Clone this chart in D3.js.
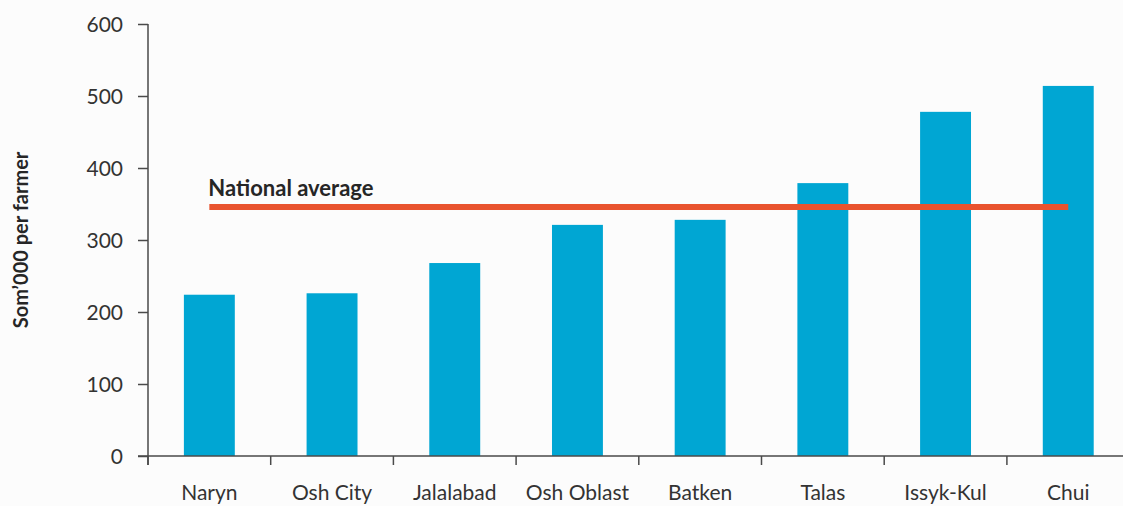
<!DOCTYPE html>
<html>
<head>
<meta charset="utf-8">
<script src="https://cdn.jsdelivr.net/npm/d3@7/dist/d3.min.js"></script>
<style>
  html, body { margin: 0; padding: 0; background: #fcfcfc; }
  svg { display: block; font-family: Lato, "Open Sans", sans-serif; }
</style>
</head>
<body>
<svg id="chart" width="1123" height="506"></svg>
<script>
// Average farm income by oblast/city (thousand som per farmer)
const regions = ["Naryn", "Osh City", "Jalalabad", "Osh Oblast", "Batken", "Talas", "Issyk-Kul", "Chui"];
const incomePerFarmer = [224, 226, 268, 321, 328, 379, 478, 514];
const nationalAverage = 346;
const yTicks = [0, 100, 200, 300, 400, 500, 600];
const yTitle = "Som\u2019000 per farmer";
const averageLabel = "National average";

const svg = d3.select("#chart");
const margin = { left: 148, top: 24 };
const plotBottom = 456;

const x = d3.scaleBand()
  .domain(regions)
  .range([margin.left, margin.left + 8 * 122.7])
  .paddingInner(0.585)
  .paddingOuter(0.2925);

const y = d3.scaleLinear().domain([0, 600]).range([plotBottom, margin.top]);

const axisColor = "#4a4a4a";
const textColor = "#333333";

// Bars
svg.append("g").selectAll("rect")
  .data(regions.map((r, i) => ({ r, v: incomePerFarmer[i] })))
  .join("rect")
  .attr("x", d => x(d.r))
  .attr("y", d => y(d.v))
  .attr("width", x.bandwidth())
  .attr("height", d => y(0) - y(d.v))
  .attr("fill", "#00a6d3");

// Y axis
const yAxis = svg.append("g")
  .attr("transform", `translate(${margin.left},0)`)
  .call(d3.axisLeft(y).tickValues(yTicks).tickSize(10).tickPadding(15).tickSizeOuter(0));
yAxis.select(".domain").attr("stroke", axisColor).attr("stroke-width", 1.5)
  .attr("d", `M0,${y(600)}V${plotBottom + 9}`);
yAxis.selectAll(".tick line").attr("stroke", axisColor).attr("stroke-width", 1.5);
yAxis.selectAll(".tick text")
  .attr("fill", textColor)
  .style("font-size", "21px")
  .style("font-family", "Lato, sans-serif")
  .attr("dy", "0.36em");

// X axis: baseline plus ticks at category boundaries
const xg = svg.append("g");
xg.append("line")
  .attr("x1", margin.left - 10).attr("x2", 1123)
  .attr("y1", plotBottom).attr("y2", plotBottom)
  .attr("stroke", axisColor).attr("stroke-width", 1.5);
xg.selectAll("line.bound")
  .data(regions)
  .join("line")
  .attr("class", "bound")
  .attr("x1", d => x(d) - x.step() * x.paddingOuter())
  .attr("x2", d => x(d) - x.step() * x.paddingOuter())
  .attr("y1", plotBottom).attr("y2", plotBottom + 9)
  .attr("stroke", axisColor).attr("stroke-width", 1.5);
xg.selectAll("text")
  .data(regions)
  .join("text")
  .attr("x", d => x(d) + x.bandwidth() / 2)
  .attr("y", 500)
  .attr("text-anchor", "middle")
  .attr("fill", textColor)
  .style("font-size", "21px")
  .text(d => d);

// National average line
const first = regions[0], last = regions[regions.length - 1];
svg.append("line")
  .attr("x1", x(first) + x.bandwidth() / 2)
  .attr("x2", x(last) + x.bandwidth() / 2)
  .attr("y1", y(nationalAverage)).attr("y2", y(nationalAverage))
  .attr("stroke", "#e9532e").attr("stroke-width", 6);

svg.append("text")
  .attr("x", x(first) + x.bandwidth() / 2 - 1)
  .attr("y", 196)
  .attr("fill", "#262626")
  .style("font-size", "22px")
  .style("font-weight", "700")
  .text(averageLabel);

// Y axis title
svg.append("text")
  .attr("transform", `translate(28,240) rotate(-90)`)
  .attr("text-anchor", "middle")
  .attr("fill", "#262626")
  .style("font-size", "20px")
  .style("font-weight", "700")
  .text(yTitle);
</script>
</body>
</html>
